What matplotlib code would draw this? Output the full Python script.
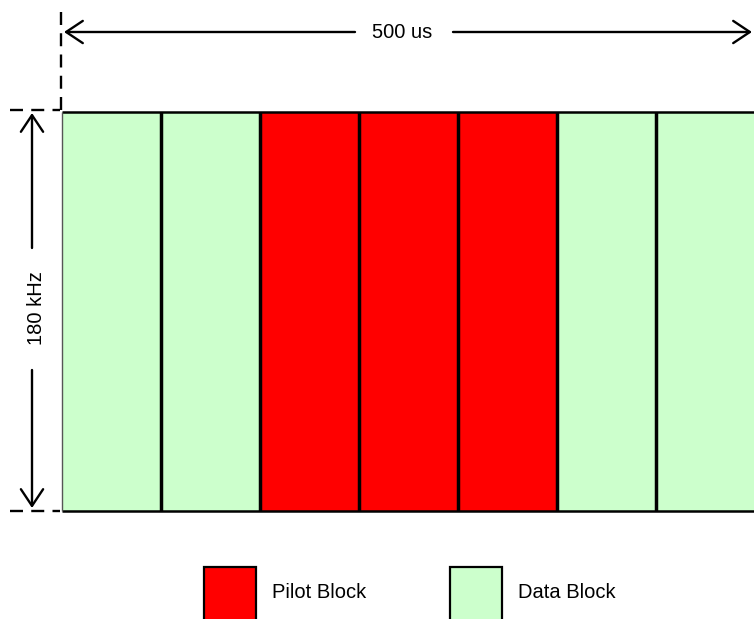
import matplotlib
matplotlib.use("Agg")
import matplotlib.pyplot as plt
from matplotlib.patches import Rectangle, FancyArrowPatch

# block layout of one resource block (time order)
block_types = ["Data", "Data", "Pilot", "Pilot", "Pilot", "Data", "Data"]
type_colors = {"Pilot": "#ff0000", "Data": "#ccffcc"}
bandwidth_khz = 180
time_label = "500 us"
freq_label = "180 kHz"
legend_labels = ["Pilot Block", "Data Block"]

FONT = ["Liberation Sans", "DejaVu Sans"]

W, H = 754, 619
fig = plt.figure(figsize=(W / 100, H / 100), dpi=100)

# main block axes
ax = fig.add_axes([62 / W, (H - 511) / H, 693 / W, 399 / H])
n = len(block_types)
ax.bar(range(n), bandwidth_khz, width=1, align="edge",
       color=[type_colors[t] for t in block_types], linewidth=0)
ax.vlines(range(1, n), 0, bandwidth_khz, colors="black", linewidth=2.5)
ax.hlines([0, bandwidth_khz], 0, n, colors="black", linewidth=1.8,
          clip_on=False)
ax.vlines(0, 0, bandwidth_khz, colors="#555555", linewidth=1.0,
          clip_on=False)
ax.set_xlim(0, n)
ax.set_ylim(0, bandwidth_khz)
ax.axis("off")

# overlay in pixel units for the dimension marks and legend
ov = fig.add_axes([0, 0, 1, 1], zorder=5)
ov.set_xlim(0, W)
ov.set_ylim(H, 0)
ov.axis("off")
ov.patch.set_alpha(0)

dash = dict(color="black", linewidth=1.7, linestyle=(0, (5.5, 3.5)))
ov.plot([61, 61], [12, 110], **dash)
ov.plot([10, 60], [110, 110], **dash)
ov.plot([10, 60], [511, 511], **dash)

arrow_kw = dict(arrowstyle="->,head_length=0.6,head_width=0.4",
                mutation_scale=20, color="black", linewidth=1.7,
                shrinkA=0, shrinkB=0)
ov.add_patch(FancyArrowPatch((355, 32), (64, 32), **arrow_kw))
ov.add_patch(FancyArrowPatch((453, 32), (752, 32), **arrow_kw))
ov.text(402, 33, time_label, fontsize=14.5, family=FONT,
        ha="center", va="center")

ov.add_patch(FancyArrowPatch((32, 248), (32, 113), **arrow_kw))
ov.add_patch(FancyArrowPatch((32, 370), (32, 508), **arrow_kw))
ov.text(36, 308, freq_label, fontsize=14.5, family=FONT, rotation=90,
        ha="center", va="center")

# legend
for x0, lab, t in zip([204, 450], legend_labels, ["Pilot", "Data"]):
    ov.add_patch(Rectangle((x0, 567), 52, 54, facecolor=type_colors[t],
                           edgecolor="black", linewidth=1.6))
    ov.text(x0 + 68, 593, lab, fontsize=14.5, family=FONT,
            ha="left", va="center")

fig.savefig("out.png", dpi=100)
